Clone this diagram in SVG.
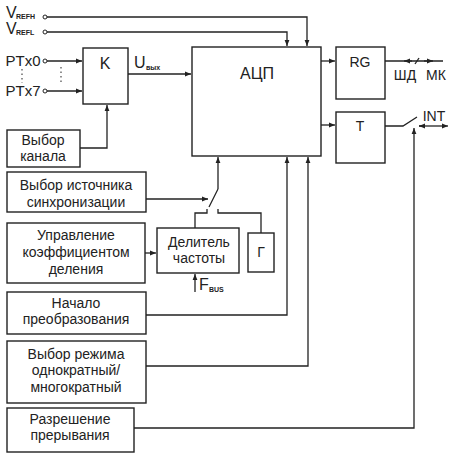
<svg xmlns="http://www.w3.org/2000/svg" width="453" height="458" viewBox="0 0 453 458">
<defs>
<marker id="ar" viewBox="0 0 10 10" refX="10" refY="5" markerWidth="6" markerHeight="6" orient="auto-start-reverse" markerUnits="userSpaceOnUse">
<path d="M0,1 L10,5 L0,9 Z" fill="#222"/>
</marker>
</defs>
<style>
.b{fill:#fff;stroke:#222;stroke-width:1.4}
.l{fill:none;stroke:#222;stroke-width:1.3}
.t{font-family:"Liberation Sans",Arial,sans-serif;font-size:14px;fill:#222;text-anchor:middle}
.s{font-family:"Liberation Sans",Arial,sans-serif;font-size:7px;font-weight:bold;fill:#222}
.big{font-family:"Liberation Sans",Arial,sans-serif;font-size:16px;fill:#222}
.c{fill:#fff;stroke:#222;stroke-width:1}
.d{fill:none;stroke:#555;stroke-width:1.3;stroke-dasharray:1.5 3}
</style>
<rect width="453" height="458" fill="#fff"/>

<g id="connectors">
<path class="l" d="M47,17 H307 V46" marker-end="url(#ar)"/>
<path class="l" d="M47,32 H287 V46" marker-end="url(#ar)"/>
<path class="l" d="M47,61 H82" marker-end="url(#ar)"/>
<path class="l" d="M47,91 H82" marker-end="url(#ar)"/>
<path class="d" d="M22,69 V83"/>
<path class="d" d="M61,67 V83"/>
<path class="l" d="M128,74 H191" marker-end="url(#ar)"/>
<path class="l" d="M80,148 H107 V105" marker-end="url(#ar)"/>
<path class="l" d="M321,61 H335" marker-end="url(#ar)"/>
<path class="l" d="M321,125 H335" marker-end="url(#ar)"/>
<path class="l" d="M385,61 H443"/>
<path class="l" d="M412,61 H404" marker-end="url(#ar)"/>
<path class="l" d="M424,61 H433" marker-end="url(#ar)"/>
<path class="l" d="M415,64 L419,58"/>
<path class="l" d="M385,126 H403 L417,117"/>
<path class="l" d="M425,126 H419" marker-end="url(#ar)"/>
<path class="l" d="M419,126 H448" marker-end="url(#ar)"/>
<path class="l" d="M134,428 H414 V128" marker-end="url(#ar)"/>
<path class="l" d="M218,189 V157" marker-end="url(#ar)"/>
<path class="l" d="M218,189 L209,207"/>
<path class="l" d="M146,199 H208" marker-end="url(#ar)"/>
<path class="l" d="M207,209 V213 H195 V228"/>
<path class="l" d="M218,209 V213 H261 V233"/>
<path class="l" d="M145,253 H156" marker-end="url(#ar)"/>
<path class="l" d="M195,292 V274" marker-end="url(#ar)"/>
<path class="l" d="M146,315 H287 V157" marker-end="url(#ar)"/>
<path class="l" d="M146,366 H308 V157" marker-end="url(#ar)"/>
<circle class="c" cx="45" cy="17" r="2"/>
<circle class="c" cx="45" cy="32" r="2"/>
<circle class="c" cx="45" cy="61" r="2"/>
<circle class="c" cx="45" cy="91" r="2"/>
</g>

<g id="labels">
<text class="big" x="6" y="18">V</text><text class="s" x="16" y="19">REFH</text>
<text class="big" x="6" y="34">V</text><text class="s" x="16" y="35">REFL</text>
<text class="t" x="23" y="66" style="font-size:15px">PTx0</text>
<text class="t" x="23" y="96" style="font-size:15px">PTx7</text>
<text class="big" x="134" y="68">U</text><text class="s" x="146" y="70">вых</text>
<text class="t" x="405" y="80">ШД</text>
<text class="t" x="436" y="80">МК</text>
<text class="t" x="434" y="121">INT</text>
<text class="big" x="199" y="290">F</text><text class="s" x="209" y="292">BUS</text>
</g>

<g id="K"><rect class="b" x="83" y="48" width="45" height="56"/><text class="t" x="105" y="69" style="font-size:16px">K</text></g>
<g id="ADC"><rect class="b" x="192" y="47" width="129" height="109"/><text class="t" x="257" y="79" style="font-size:16px">АЦП</text></g>
<g id="RG"><rect class="b" x="336" y="47" width="49" height="52"/><text class="t" x="360" y="67">RG</text></g>
<g id="T"><rect class="b" x="336" y="112" width="49" height="51"/><text class="t" x="360" y="131">T</text></g>
<g id="divider"><rect class="b" x="157" y="228" width="82" height="45"/><text class="t" x="199" y="247">Делитель</text><text class="t" x="199" y="263">частоты</text></g>
<g id="G"><rect class="b" x="248" y="233" width="26" height="39"/><text class="t" x="261" y="257">Г</text></g>
<g id="chan"><rect class="b" x="7" y="130" width="73" height="37"/><text class="t" x="43" y="145">Выбор</text><text class="t" x="43" y="161">канала</text></g>
<g id="sync"><rect class="b" x="7" y="172" width="139" height="40"/><text class="t" x="76" y="190">Выбор источника</text><text class="t" x="76" y="207">синхронизации</text></g>
<g id="coef"><rect class="b" x="7" y="223" width="138" height="60"/><text class="t" x="76" y="240">Управление</text><text class="t" x="76" y="257">коэффициентом</text><text class="t" x="76" y="274">деления</text></g>
<g id="start"><rect class="b" x="7" y="292" width="139" height="42"/><text class="t" x="76" y="308">Начало</text><text class="t" x="76" y="324">преобразования</text></g>
<g id="mode"><rect class="b" x="7" y="341" width="139" height="62"/><text class="t" x="76" y="359">Выбор режима</text><text class="t" x="76" y="375">однократный/</text><text class="t" x="76" y="392">многократный</text></g>
<g id="irq"><rect class="b" x="7" y="408" width="127" height="44"/><text class="t" x="70" y="424">Разрешение</text><text class="t" x="70" y="440">прерывания</text></g>
</svg>
